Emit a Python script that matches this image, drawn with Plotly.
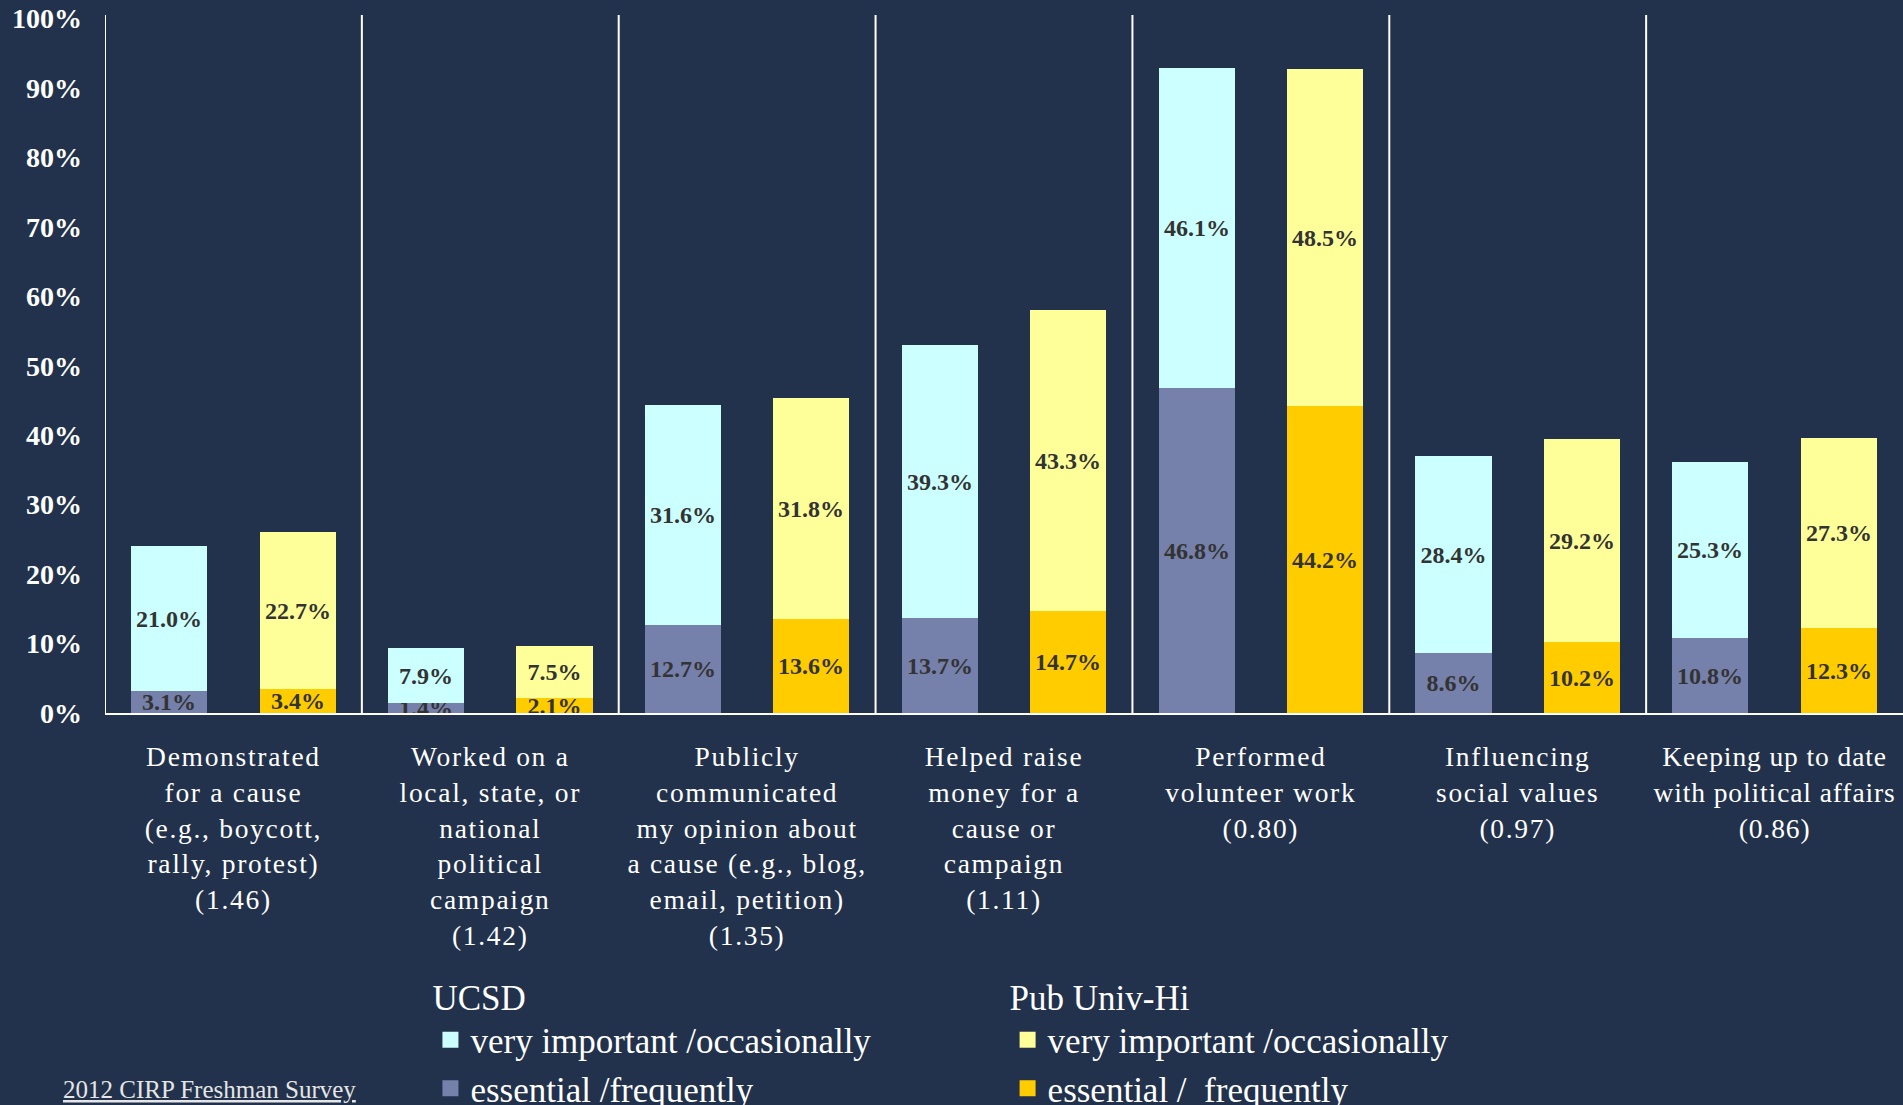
import plotly.graph_objects as go

category_lines = [
    ["Demonstrated", "for a cause", "(e.g., boycott,", "rally, protest)", "(1.46)"],
    ["Worked on a", "local, state, or", "national", "political", "campaign", "(1.42)"],
    ["Publicly", "communicated", "my opinion about", "a cause (e.g., blog,", "email, petition)", "(1.35)"],
    ["Helped raise", "money for a", "cause or", "campaign", "(1.11)"],
    ["Performed", "volunteer work", "(0.80)"],
    ["Influencing", "social values", "(0.97)"],
    ["Keeping up to date", "with political affairs", "(0.86)"],
]
ucsd_frequent = [3.1, 1.4, 12.7, 13.7, 46.8, 8.6, 10.8]
ucsd_occasional = [21.0, 7.9, 31.6, 39.3, 46.1, 28.4, 25.3]
pub_frequent = [3.4, 2.1, 13.6, 14.7, 44.2, 10.2, 12.3]
pub_occasional = [22.7, 7.5, 31.8, 43.3, 48.5, 29.2, 27.3]
y_ticks = [0, 10, 20, 30, 40, 50, 60, 70, 80, 90, 100]

BG = "#22324c"
SERIF = "Liberation Serif"
LABEL_COLOR = "#333333"

C_UCSD_OCC = "#ccffff"
C_UCSD_FREQ = "#7580ab"
C_PUB_OCC = "#ffff99"
C_PUB_FREQ = "#ffcc00"

# letter spacing (px) per category label; the last one is tighter so it fits the edge
label_spacing = [1.7, 1.7, 1.7, 1.7, 1.7, 1.7, 0.9]


def spaced(lines, px):
    return "<br>".join(f"<span style='letter-spacing:{px}px'>{ln}</span>" for ln in lines)


tick_text = [spaced(lines, sp) for lines, sp in zip(category_lines, label_spacing)]

idx = list(range(len(category_lines)))
x_ucsd = [i - 0.25 for i in idx]
x_pub = [i + 0.25 for i in idx]

fig = go.Figure()


def add_bar(x, y, color):
    fig.add_trace(go.Bar(
        x=x, y=y, width=0.296, showlegend=False,
        marker=dict(color=color, line=dict(width=0)),
        text=[f"{v:.1f}%" for v in y],
        textposition="inside", insidetextanchor="middle",
        constraintext="none", cliponaxis=False,
        textfont=dict(family=SERIF, size=24, color=LABEL_COLOR, weight="bold"),
        hoverinfo="skip",
    ))


add_bar(x_ucsd, ucsd_frequent, C_UCSD_FREQ)
add_bar(x_ucsd, ucsd_occasional, C_UCSD_OCC)
add_bar(x_pub, pub_frequent, C_PUB_FREQ)
add_bar(x_pub, pub_occasional, C_PUB_OCC)


def add_legend_item(name, color, legend, group):
    fig.add_trace(go.Scatter(
        x=[None], y=[None], mode="markers", name=name,
        marker=dict(symbol="square", size=16, color=color),
        legend=legend, legendgroup=group, hoverinfo="skip",
    ))


add_legend_item("very important /occasionally", C_UCSD_OCC, "legend", "u1")
add_legend_item("essential /frequently", C_UCSD_FREQ, "legend", "u2")
add_legend_item("very important /occasionally", C_PUB_OCC, "legend2", "p1")
add_legend_item("essential /  frequently", C_PUB_FREQ, "legend2", "p2")

# category separators
for k in range(len(category_lines)):
    fig.add_shape(type="line", xref="x", yref="paper", x0=k - 0.5, x1=k - 0.5,
                  y0=0, y1=1, line=dict(color="white", width=2), layer="above")

legend_common = dict(
    xanchor="left", yanchor="top", bgcolor="rgba(0,0,0,0)",
    font=dict(family=SERIF, size=35, color="white"),
    tracegroupgap=0, traceorder="normal", itemclick=False, itemdoubleclick=False,
)

fig.update_layout(
    width=1903, height=1105,
    paper_bgcolor=BG, plot_bgcolor=BG,
    margin=dict(l=105, r=0, t=15, b=392, autoexpand=False),
    barmode="stack", bargap=0,
    showlegend=True,
    uniformtext=dict(minsize=24, mode="show"),
    xaxis=dict(
        range=[-0.5, 6.5], tickmode="array", tickvals=idx, ticktext=tick_text,
        tickangle=0, showgrid=False, zeroline=False,
        showline=True, linecolor="white", linewidth=2,
        tickfont=dict(family=SERIF, size=27.5, color="white"),
        ticks="", ticklabelstandoff=18, ticklabeloverflow="allow",
        fixedrange=True, automargin=False,
    ),
    yaxis=dict(
        range=[0, 100.5], tickmode="array", tickvals=y_ticks,
        ticktext=[f"{v}%" for v in y_ticks],
        showgrid=False, zeroline=False, showline=False,
        tickfont=dict(family=SERIF, size=28, color="white", weight="bold"),
        ticks="", ticklabelstandoff=22, fixedrange=True, automargin=False,
    ),
    legend=dict(title=dict(text="UCSD", font=dict(family=SERIF, size=35, color="white")),
                x=0.181, y=-0.361, **legend_common),
    legend2=dict(title=dict(text="Pub Univ-Hi", font=dict(family=SERIF, size=35, color="white")),
                 x=0.502, y=-0.361, **legend_common),
    annotations=[dict(
        text="<u>2012 CIRP Freshman Survey</u>", xref="paper", yref="paper",
        x=-0.0247, y=-0.539, xanchor="left", yanchor="middle", showarrow=False,
        font=dict(family=SERIF, size=25, color="#e6e6e6"),
    )],
)

fig.write_html("out.html", config={"displayModeBar": False},
               post_script="document.body.style.margin='0px';")
